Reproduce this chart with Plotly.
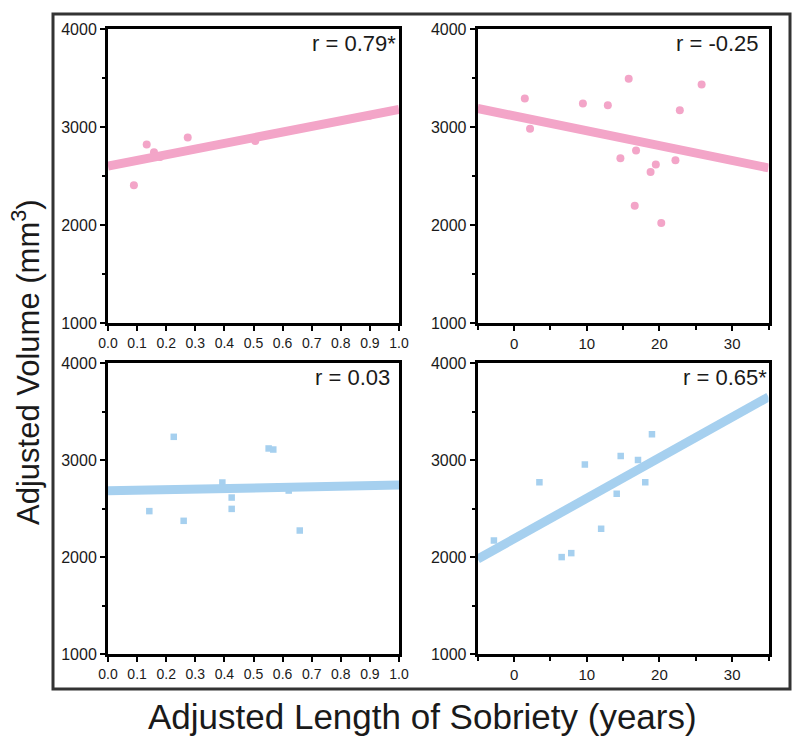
import plotly.graph_objects as go

# ---------------- data ----------------
p1_x = [0.089, 0.133, 0.158, 0.179, 0.274, 0.506, 0.898]
p1_y = [2406, 2823, 2744, 2696, 2895, 2860, 3116]
fit1_x = [0.0, 1.0]
fit1_y = [2604, 3181]

p2_x = [1.48, 2.2, 9.47, 12.9, 15.77, 14.63, 16.78, 16.6, 18.78, 19.5, 20.25, 22.2, 22.8, 25.8]
p2_y = [3294, 2983, 3243, 3225, 3494, 2683, 2761, 2198, 2543, 2618, 2021, 2662, 3174, 3437]
fit2_x = [-5, 35]
fit2_y = [3191, 2584]

p3_x = [0.142, 0.226, 0.260, 0.393, 0.425, 0.425, 0.552, 0.568, 0.621, 0.659]
p3_y = [2473, 3239, 2373, 2768, 2613, 2496, 3119, 3108, 2685, 2273]
fit3_x = [0.0, 1.0]
fit3_y = [2682, 2741]

p4_x = [-2.77, 3.49, 6.55, 7.87, 9.74, 11.98, 14.12, 14.67, 17.05, 18.05, 18.97]
p4_y = [2171, 2771, 1999, 2040, 2954, 2291, 2651, 3042, 3001, 2771, 3266]
fit4_x = [-5, 35]
fit4_y = [1979, 3650]

r_labels = ["r = 0.79*", "r = -0.25", "r = 0.03", "r = 0.65*"]
y_title = "Adjusted Volume (mm<sup>3</sup>)"
x_title = "Adjusted Length of Sobriety (years)"

PINK = "#f3a5c8"
BLUE = "#a6d0ef"
FONT = "Liberation Sans, Arial, Helvetica, sans-serif"
INK = "#1a1a1a"

# page body has an 8px margin: size the figure so it fits the 800x743 window
OFF = 8
W, H = 800 - OFF, 743 - OFF

fig = go.Figure()

panels = [
    (p1_x, p1_y, fit1_x, fit1_y, PINK, "circle", 8, "x", "y"),
    (p2_x, p2_y, fit2_x, fit2_y, PINK, "circle", 8, "x2", "y2"),
    (p3_x, p3_y, fit3_x, fit3_y, BLUE, "square", 6.5, "x3", "y3"),
    (p4_x, p4_y, fit4_x, fit4_y, BLUE, "square", 6.5, "x4", "y4"),
]
for px, py, fx, fy, col, sym, ms, xa, ya in panels:
    fig.add_trace(go.Scatter(x=px, y=py, mode="markers", xaxis=xa, yaxis=ya,
                             marker=dict(color=col, symbol=sym, size=ms, line=dict(width=0)),
                             showlegend=False, hoverinfo="x+y"))
    fig.add_trace(go.Scatter(x=fx, y=fy, mode="lines", xaxis=xa, yaxis=ya,
                             line=dict(color=col, width=9), showlegend=False,
                             hoverinfo="skip"))

def px2x(p):
    return (p - OFF) / W

def px2y(p):
    return 1 - (p - OFF) / H

left_dom = [px2x(108), px2x(399)]
right_dom = [px2x(477.7), px2x(768.5)]
top_dom = [px2y(323), px2y(29.3)]
bot_dom = [px2y(654), px2y(363)]

common_axis = dict(showline=True, linecolor="black", linewidth=3, mirror=True,
                   showgrid=False, zeroline=False, ticks="outside", ticklen=5,
                   tickwidth=2, tickcolor="black", automargin=False,
                   tickfont=dict(family=FONT, size=15, color=INK))

yaxis_common = dict(common_axis, range=[1000, 4000], tick0=1000, dtick=1000,
                    tickfont=dict(family=FONT, size=16, color=INK),
                    minor=dict(ticks="outside", ticklen=3, tickwidth=2,
                               tickcolor="black", dtick=500, tick0=1000,
                               showgrid=False))
x01 = dict(common_axis, range=[0, 1], tick0=0, dtick=0.1, tickformat=".1f",
           tickfont=dict(family=FONT, size=14, color=INK))
x535 = dict(common_axis, range=[-5, 35], tick0=0, dtick=10,
            minor=dict(ticks="outside", ticklen=4, tickwidth=2,
                       tickcolor="black", dtick=5, tick0=-5, showgrid=False))

fig.update_layout(
    width=W, height=H, autosize=False,
    margin=dict(l=0, r=0, t=0, b=0, pad=0, autoexpand=False),
    paper_bgcolor="white", plot_bgcolor="white",
    font=dict(family=FONT, color=INK),
    xaxis=dict(x01, domain=left_dom, anchor="y"),
    yaxis=dict(yaxis_common, domain=top_dom, anchor="x"),
    xaxis2=dict(x535, domain=right_dom, anchor="y2"),
    yaxis2=dict(yaxis_common, domain=top_dom, anchor="x2"),
    xaxis3=dict(x01, domain=left_dom, anchor="y3"),
    yaxis3=dict(yaxis_common, domain=bot_dom, anchor="x3"),
    xaxis4=dict(x535, domain=right_dom, anchor="y4"),
    yaxis4=dict(yaxis_common, domain=bot_dom, anchor="x4"),
)

r_x = [0.997, 0.975, 0.975, 1.0]
for i, lab in enumerate(r_labels):
    suffix = "" if i == 0 else str(i + 1)
    fig.add_annotation(text=lab, xref=f"x{suffix} domain", yref=f"y{suffix} domain",
                       x=r_x[i], y=1.0,
                       xanchor="right", yanchor="top", showarrow=False,
                       font=dict(family=FONT, size=22, color=INK))

fig.add_annotation(text=y_title, xref="paper", yref="paper", x=px2x(26), y=px2y(362),
                   textangle=-90, showarrow=False, xanchor="center", yanchor="middle",
                   font=dict(family=FONT, size=31, color=INK))
fig.add_annotation(text=x_title, xref="paper", yref="paper", x=px2x(422), y=px2y(716),
                   showarrow=False, xanchor="center", yanchor="middle",
                   font=dict(family=FONT, size=35, color=INK))

fig.add_shape(type="rect", xref="paper", yref="paper",
              x0=px2x(53), x1=px2x(790), y0=px2y(689), y1=px2y(14),
              line=dict(color="#333333", width=3), fillcolor="rgba(0,0,0,0)")

fig.write_html("out.html")
